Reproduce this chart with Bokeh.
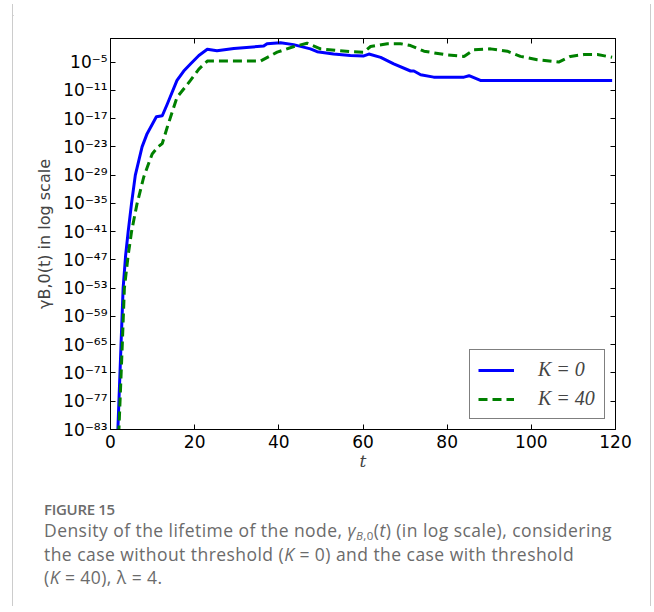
from bokeh.plotting import figure
from bokeh.models import (Range1d, FixedTicker, LogAxis, LinearAxis, CustomJSTickFormatter,
                          Div, ColumnDataSource, Spacer)
from bokeh.layouts import column, row
from bokeh.embed import file_html
from bokeh.resources import INLINE

# ---------------- data ----------------
# K = 0 : time t and log10 of the density
t_k0 = [1.6, 1.75, 2.5, 3.0, 3.6, 4.2, 5.0, 5.9, 7.5, 8.7, 10.9, 12.3, 13.5, 15.8, 17.4, 19.0,
        21.0, 23.0, 25.3, 29.3, 36.4, 37.2, 40.4, 43.5, 47.5, 49.1, 53.0, 57.0, 60.2, 61.4,
        64.2, 67.3, 71.3, 72.1, 73.7, 76.8, 84.0, 85.2, 87.9, 119.2]
log_k0 = [-90, -83, -65, -53, -46, -41, -35, -29, -23, -20.2, -16.6, -16.4, -13.9, -8.9, -6.9, -5.4,
          -3.6, -2.3, -2.6, -2.1, -1.6, -1.1, -0.9, -1.3, -2.2, -2.8, -3.3, -3.6, -3.7, -3.3,
          -4.0, -5.4, -6.9, -6.9, -7.7, -8.2, -8.2, -7.9, -8.9, -8.9]

# K = 40
t_k40 = [1.9, 2.0, 2.8, 3.3, 4.2, 5.0, 6.3, 7.9, 9.9, 11.3, 12.3, 13.5, 15.8, 19.0, 21.0, 23.0,
         35.6, 39.6, 43.6, 46.7, 49.9, 57.0, 60.2, 61.8, 65.8, 68.9, 71.3, 74.5, 80.0, 84.0,
         86.3, 90.3, 94.3, 97.4, 101.4, 106.5, 109.3, 112.5, 115.7, 119.2]
log_k40 = [-90, -83, -65, -53, -46, -41, -35.1, -29.4, -24.5, -23.0, -22.3, -18.8, -12.5, -8.9, -6.5, -4.8,
           -4.8, -2.9, -1.7, -1.0, -2.2, -2.8, -2.9, -1.7, -1.1, -1.1, -1.5, -2.7, -3.5, -3.8,
           -2.4, -2.2, -2.7, -3.8, -4.5, -5.0, -3.8, -3.4, -3.4, -4.0]

x_ticks = [0, 20, 40, 60, 80, 100, 120]
y_tick_exponents = [-83, -77, -71, -65, -59, -53, -47, -41, -35, -29, -23, -17, -11, -5]
y_tick_labels = ["10⁻⁸³", "10⁻⁷⁷", "10⁻⁷¹", "10⁻⁶⁵", "10⁻⁵⁹", "10⁻⁵³", "10⁻⁴⁷",
                 "10⁻⁴¹", "10⁻³⁵", "10⁻²⁹", "10⁻²³", "10⁻¹⁷", "10⁻¹¹", "10⁻⁵"]
series_labels = ["K = 0", "K = 40"]

# ---------------- figure ----------------
p = figure(width=637, height=475, x_range=Range1d(0, 120),
           y_range=Range1d(10.0 ** -83, 10.0 ** 0), y_axis_type="log",
           output_backend="svg", toolbar_location=None, margin=0,
           min_border_left=97, min_border_right=35, min_border_top=33, min_border_bottom=51)
p.grid.visible = False
p.outline_line_color = "black"
p.background_fill_color = "white"
p.border_fill_color = "white"

src0 = ColumnDataSource(dict(t=t_k0, y=[10.0 ** v for v in log_k0]))
src40 = ColumnDataSource(dict(t=t_k40, y=[10.0 ** v for v in log_k40]))
p.line("t", "y", source=src0, line_color="#0000ff", line_width=3, line_join="round",
       legend_label=series_labels[0])
p.line("t", "y", source=src40, line_color="#008000", line_width=3, line_dash="9 5",
       legend_label=series_labels[1])

ylog_ticks = [10.0 ** e for e in y_tick_exponents]
fmt = CustomJSTickFormatter(args=dict(exps=y_tick_exponents, labels=y_tick_labels), code="""
const e = Math.round(Math.log10(tick));
const i = exps.indexOf(e);
return i >= 0 ? labels[i] : '';
""")
blank = CustomJSTickFormatter(code="return '';")

def style_axis(ax):
    ax.major_tick_in = 5
    ax.major_tick_out = 0
    ax.minor_tick_in = 0
    ax.minor_tick_out = 0
    ax.axis_line_color = "black"
    ax.major_tick_line_color = "black"
    ax.major_label_text_font = "DejaVu Sans"
    ax.major_label_text_font_size = "17px"
    ax.major_label_text_color = "black"

xa = p.xaxis[0]
xa.ticker = FixedTicker(ticks=x_ticks)
style_axis(xa)
xa.major_label_standoff = 5
xa.axis_label = "t"
xa.axis_label_text_font = "DejaVu Serif"
xa.axis_label_text_font_style = "italic"
xa.axis_label_text_font_size = "17px"
xa.axis_label_standoff = 0

ya = p.yaxis[0]
ya.ticker = FixedTicker(ticks=ylog_ticks, minor_ticks=[])
ya.formatter = fmt
style_axis(ya)
ya.major_label_standoff = 3
ya.axis_label = "γB,0(t) in log scale"
ya.axis_label_text_font = "DejaVu Sans"
ya.axis_label_text_font_style = "normal"
ya.axis_label_text_font_size = "16px"
ya.axis_label_standoff = 6

top = LinearAxis(ticker=FixedTicker(ticks=x_ticks), formatter=blank)
style_axis(top)
p.add_layout(top, "above")
right = LogAxis(ticker=FixedTicker(ticks=ylog_ticks, minor_ticks=[]), formatter=blank)
style_axis(right)
p.add_layout(right, "right")

lg = p.legend[0]
lg.location = "bottom_right"
lg.margin = 10
lg.padding = 8
lg.spacing = 6
lg.border_line_color = "black"
lg.border_line_width = 1
lg.background_fill_color = "white"
lg.background_fill_alpha = 1
lg.glyph_width = 36
lg.glyph_height = 20
lg.label_height = 20
lg.label_width = 58
lg.label_standoff = 24
lg.label_text_font = "Liberation Serif"
lg.label_text_font_style = "italic"
lg.label_text_font_size = "20px"

caption = Div(width=637, height=126, margin=0, text="""
<div style="padding:19px 0 0 31px; font-family:'Open Sans'; color:#6b6b6b;">
<div style="font-weight:600; font-size:15px; line-height:20px; letter-spacing:-0.3px;">FIGURE 15</div>
<div style="font-size:17.5px; line-height:23.5px; font-weight:400; letter-spacing:0.45px; white-space:nowrap;">Density of the lifetime of the node, <i>γ</i><span style="font-size:11.5px; position:relative; top:3px; line-height:0;"><i>B</i>,0</span>(<i>t</i>) (in log scale), considering<br>
the case without threshold (<i>K</i> = 0) and the case with threshold<br>
(<i>K</i> = 40), λ = 4.</div>
</div>
""")

frame_col = "#cccccc"
hline = Div(width=637, height=1, margin=0,
            text='<div style="width:637px;height:1px;background:%s"></div>' % frame_col)
vline_l = Div(width=1, height=602, margin=0,
              text='<div style="width:1px;height:602px;background:%s"></div>' % frame_col)
vline_r = Div(width=1, height=602, margin=0,
              text='<div style="width:1px;height:602px;background:%s"></div>' % frame_col)

layout = row(Spacer(width=0, height=10, margin=0), vline_l, column(hline, p, caption, margin=0),
             vline_r, margin=(4, 0, 0, 12))

open("out.html", "w").write(file_html(layout, INLINE))
